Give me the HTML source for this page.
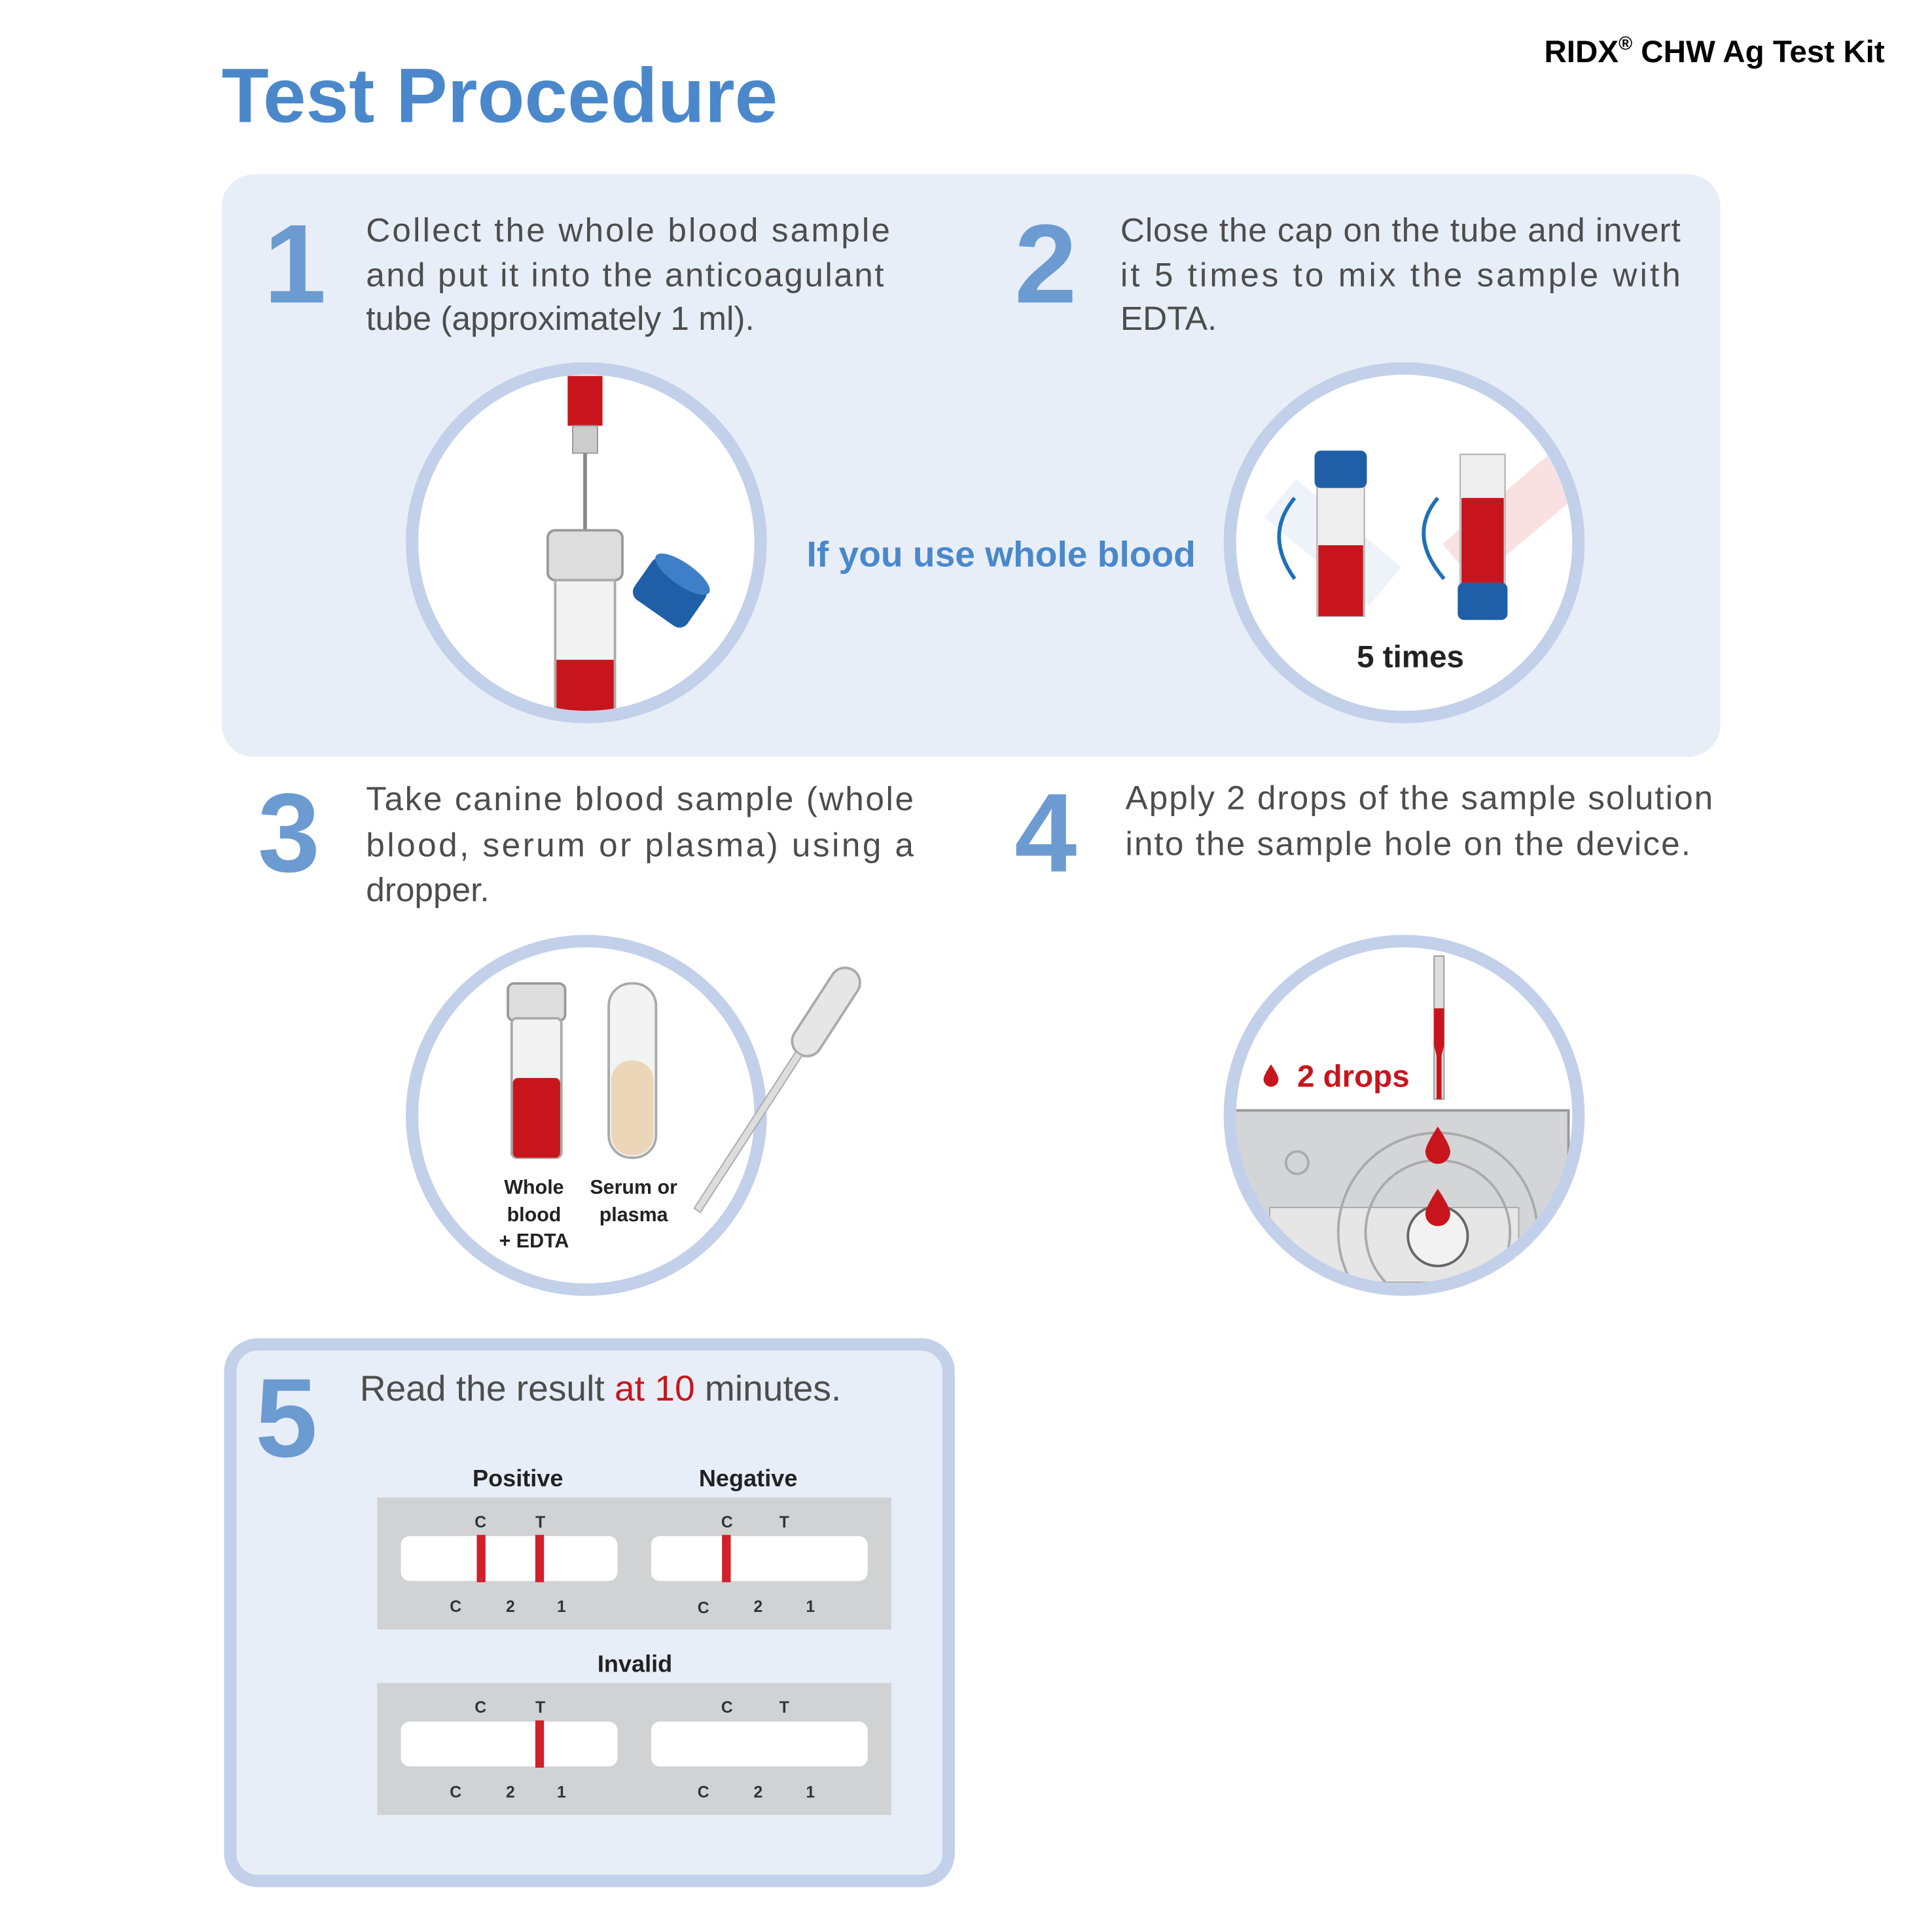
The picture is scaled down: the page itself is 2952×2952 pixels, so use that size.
<!DOCTYPE html>
<html><head><meta charset="utf-8"><style>
html,body{margin:0;padding:0;background:#fff;}
svg{display:block;}
text{font-family:"Liberation Sans",sans-serif;}
</style></head><body>
<svg width="2952" height="2952" viewBox="0 0 1552 1552" xmlns="http://www.w3.org/2000/svg">
<defs>
<clipPath id="c1"><circle cx="471" cy="436" r="135"/></clipPath>
<clipPath id="c2"><circle cx="1128" cy="436" r="135"/></clipPath>
<clipPath id="c3"><circle cx="471" cy="896" r="135"/></clipPath>
<clipPath id="c4"><circle cx="1128" cy="896" r="135"/></clipPath>
</defs>
<rect width="1552" height="1552" fill="#fff"/>
<text x="178" y="98" font-size="62" font-weight="bold" fill="#4a88cb">Test Procedure</text>
<text x="1514" y="50" font-size="25" font-weight="bold" fill="#000" text-anchor="end">RIDX<tspan font-size="15" dy="-10">®</tspan><tspan dy="10"> CHW Ag Test Kit</tspan></text>

<rect x="178" y="140" width="1204" height="468" rx="26" fill="#e8eef7"/>
<rect x="185" y="1080" width="577" height="431" rx="22" fill="#e8eef7" stroke="#c2d0ea" stroke-width="10"/>

<g font-size="90" font-weight="bold" fill="#6b9bd1">
<text x="212" y="243">1</text><text x="815" y="243">2</text>
<text x="207" y="700">3</text><text x="815" y="700">4</text>
<text x="205" y="1170">5</text>
</g>
<g font-size="27" fill="#4d4d4d">
<text x="294" y="194" textLength="421" lengthAdjust="spacing">Collect the whole blood sample</text>
<text x="294" y="230" textLength="416" lengthAdjust="spacing">and put it into the anticoagulant</text>
<text x="294" y="265">tube (approximately 1 ml).</text>
<text x="900" y="194" textLength="450" lengthAdjust="spacing">Close the cap on the tube and invert</text>
<text x="900" y="230" textLength="450" lengthAdjust="spacing">it 5 times to mix the sample with</text>
<text x="900" y="265">EDTA.</text>
<text x="294" y="651" textLength="440" lengthAdjust="spacing">Take canine blood sample (whole</text>
<text x="294" y="688" textLength="440" lengthAdjust="spacing">blood, serum or plasma) using a</text>
<text x="294" y="724">dropper.</text>
<text x="904" y="650" textLength="472" lengthAdjust="spacing">Apply 2 drops of the sample solution</text>
<text x="904" y="687" textLength="454" lengthAdjust="spacing">into the sample hole on the device.</text>
</g>
<text x="648" y="455" font-size="29" font-weight="bold" fill="#4a88cb">If you use whole blood</text>

<!-- circle 1 -->
<circle cx="471" cy="436" r="140" fill="#fff" stroke="#c2d0ea" stroke-width="10"/>
<g clip-path="url(#c1)">
<rect x="456" y="302" width="28" height="40" fill="#c8151d"/>
<rect x="460" y="342" width="20" height="22" fill="#ccc" stroke="#999"/>
<line x1="470" y1="364" x2="470" y2="430" stroke="#888" stroke-width="3"/>
<circle cx="470" cy="433" r="4" fill="#c8151d"/>
<rect x="440" y="426" width="60" height="40" rx="6" fill="#ddd" stroke="#999" stroke-width="2"/>
<rect x="446" y="466" width="48" height="120" fill="#f2f2f2" stroke="#aaa" stroke-width="2"/>
<rect x="447" y="530" width="46" height="56" fill="#c8151d"/>
<g transform="rotate(35 538 476)"><rect x="512" y="456" width="52" height="40" rx="8" fill="#1f5fa8"/><ellipse cx="538" cy="458" rx="26" ry="9" fill="#3e80c8"/></g>
</g>

<!-- circle 2 -->
<circle cx="1128" cy="436" r="140" fill="#fff" stroke="#c2d0ea" stroke-width="10"/>
<g clip-path="url(#c2)">
<g transform="rotate(-50 1040 410)" opacity="0.5"><rect x="1020" y="395" width="40" height="110" fill="#dde8f3"/></g>
<rect x="1058" y="385" width="38" height="110" fill="#eee" stroke="#aaa"/>
<rect x="1059" y="438" width="36" height="57" fill="#c8151d"/>
<rect x="1056" y="362" width="42" height="30" rx="5" fill="#1f5fa8"/>
<g transform="rotate(50 1210 420)" opacity="0.4"><rect x="1190" y="360" width="40" height="110" fill="#f1b3b5"/></g>
<rect x="1173" y="365" width="36" height="112" fill="#eee" stroke="#aaa"/>
<rect x="1174" y="400" width="34" height="70" fill="#c8151d"/>
<rect x="1171" y="468" width="40" height="30" rx="5" fill="#1f5fa8"/>
<path d="M1040 400 Q1015 430 1040 465" fill="none" stroke="#1f6fb8" stroke-width="3"/>
<path d="M1155 400 Q1130 430 1160 465" fill="none" stroke="#1f6fb8" stroke-width="3"/>
</g>
<text x="1133" y="536" font-size="25" font-weight="bold" fill="#222" text-anchor="middle">5 times</text>

<!-- circle 3 -->
<circle cx="471" cy="896" r="140" fill="#fff" stroke="#c2d0ea" stroke-width="10"/>
<g clip-path="url(#c3)">
<rect x="408" y="790" width="46" height="30" rx="5" fill="#ddd" stroke="#999" stroke-width="2"/>
<rect x="411" y="818" width="40" height="112" rx="4" fill="#f2f2f2" stroke="#aaa" stroke-width="2"/>
<rect x="412" y="866" width="38" height="64" rx="4" fill="#c8151d"/>
<rect x="489" y="790" width="38" height="140" rx="18" fill="#f3f3f3" stroke="#aaa" stroke-width="2"/>
<rect x="491" y="852" width="34" height="76" rx="16" fill="#ecd6b8"/>
</g>
<g transform="rotate(33 620 880)"><rect x="608" y="760" width="24" height="80" rx="12" fill="#e6e6e6" stroke="#aaa" stroke-width="2"/><rect x="617" y="840" width="6" height="150" fill="#ddd" stroke="#aaa"/></g>
<g font-size="16" font-weight="bold" fill="#222" text-anchor="middle">
<text x="429" y="959">Whole</text><text x="429" y="981">blood</text><text x="429" y="1002">+ EDTA</text>
<text x="509" y="959">Serum or</text><text x="509" y="981">plasma</text>
</g>

<!-- circle 4 -->
<circle cx="1128" cy="896" r="140" fill="#fff" stroke="#c2d0ea" stroke-width="10"/>
<g clip-path="url(#c4)">
<rect x="990" y="892" width="270" height="160" fill="#d4d5d7" stroke="#999" stroke-width="2"/>
<rect x="1020" y="970" width="200" height="60" fill="#e6e6e6" stroke="#aaa"/>
<circle cx="1042" cy="934" r="9" fill="none" stroke="#aaa" stroke-width="2"/>
<circle cx="1155" cy="990" r="80" fill="none" stroke="#aaa" stroke-width="2"/>
<circle cx="1155" cy="990" r="58" fill="none" stroke="#aaa" stroke-width="2"/>
<circle cx="1155" cy="993" r="24" fill="#f2f2f2" stroke="#666" stroke-width="2"/>
<rect x="1152" y="768" width="8" height="115" fill="#ddd" stroke="#999"/>
<path d="M1152 810 h8 v30 l-2 8 v35 h-4 v-35 l-2 -8z" fill="#c8151d"/>
<path d="M1155 905 q-10 15 -10 20 a10 10 0 0 0 20 0 q0 -5 -10 -20z" fill="#c8151d"/>
<path d="M1155 955 q-10 15 -10 20 a10 10 0 0 0 20 0 q0 -5 -10 -20z" fill="#c8151d"/>
</g>
<path d="M1021 855 q-6 9 -6 12 a6 6 0 0 0 12 0 q0 -3 -6 -12z" fill="#c8151d"/>
<text x="1042" y="873" font-size="25" font-weight="bold" fill="#c8151d">2 drops</text>

<!-- step 5 -->
<text x="289" y="1125" font-size="29" fill="#4d4d4d">Read the result <tspan fill="#c8151d">at 10</tspan> minutes.</text>
<g font-size="19" font-weight="bold" fill="#222" text-anchor="middle">
<text x="416" y="1194">Positive</text><text x="601" y="1194">Negative</text><text x="510" y="1343">Invalid</text>
</g>
<rect x="303" y="1203" width="413" height="106" fill="#d1d2d4"/>
<rect x="303" y="1352" width="413" height="106" fill="#d1d2d4"/>
<g fill="#fff">
<rect x="322" y="1234" width="174" height="36" rx="7"/><rect x="523" y="1234" width="174" height="36" rx="7"/>
<rect x="322" y="1383" width="174" height="36" rx="7"/><rect x="523" y="1383" width="174" height="36" rx="7"/>
</g>
<g fill="#d0202a">
<rect x="383" y="1233" width="7" height="38"/><rect x="430" y="1233" width="7" height="38"/>
<rect x="580" y="1233" width="7" height="38"/>
<rect x="430" y="1382" width="7" height="38"/>
</g>
<g font-size="13" font-weight="bold" fill="#333" text-anchor="middle">
<text x="386" y="1227">C</text><text x="434" y="1227">T</text><text x="584" y="1227">C</text><text x="630" y="1227">T</text>
<text x="366" y="1295">C</text><text x="410" y="1295">2</text><text x="451" y="1295">1</text>
<text x="565" y="1296">C</text><text x="609" y="1295">2</text><text x="651" y="1295">1</text>
<text x="386" y="1376">C</text><text x="434" y="1376">T</text><text x="584" y="1376">C</text><text x="630" y="1376">T</text>
<text x="366" y="1444">C</text><text x="410" y="1444">2</text><text x="451" y="1444">1</text>
<text x="565" y="1444">C</text><text x="609" y="1444">2</text><text x="651" y="1444">1</text>
</g>
</svg>
</body></html>
